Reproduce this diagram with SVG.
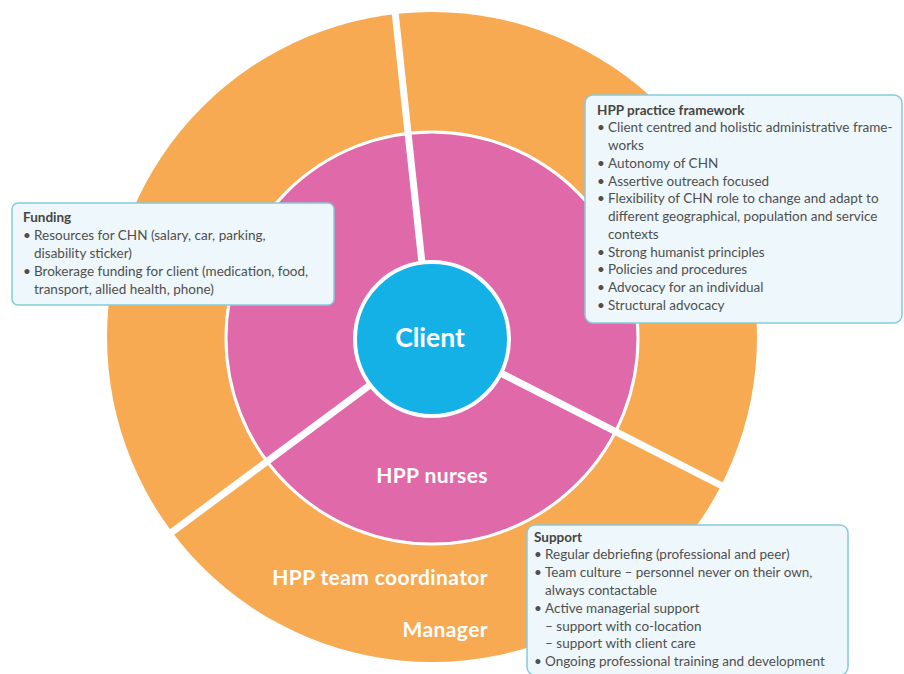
<svg xmlns="http://www.w3.org/2000/svg" width="904" height="674" viewBox="0 0 904 674">
<style>
.bg{fill:#ffffff}
.outer{fill:#F7AA52}
.mid{fill:#DF69A9;stroke:#ffffff;stroke-width:3}
.core{fill:#14B1E7;stroke:#ffffff;stroke-width:4}
.div{stroke:#ffffff;stroke-width:7;stroke-linecap:butt;fill:none}
.lbl{font-family:Lato,"Open Sans","Liberation Sans",sans-serif;font-weight:bold;fill:#ffffff}
.ring{font-size:21px;letter-spacing:0.4px}
.box{fill:#EEF7FB;stroke:#86CADC;stroke-width:1.5}
.t{font-family:Lato,"Open Sans","Liberation Sans",sans-serif;font-size:13.5px;fill:#4f4f4f}
.h{font-weight:bold;fill:#454545}
</style>
<rect class="bg" x="0" y="0" width="904" height="674"/>
<g id="coordinator-manager-ring">
  <circle class="outer" cx="432" cy="337" r="325"/>
  <text class="lbl ring" x="488" y="585" text-anchor="end">HPP team coordinator</text>
  <text class="lbl ring" x="488" y="637" text-anchor="end">Manager</text>
</g>
<g id="nurses-ring">
  <circle class="mid" cx="432" cy="338" r="206"/>
  <text class="lbl ring" x="488" y="483" text-anchor="end">HPP nurses</text>
</g>
<g id="dividers">
  <line class="div" x1="430" y1="338" x2="394" y2="2"/>
  <line class="div" x1="432" y1="339" x2="164" y2="538"/>
  <line class="div" x1="432" y1="338" x2="736" y2="493"/>
</g>
<g id="client">
  <circle class="core" cx="432" cy="339" r="77"/>
  <text class="lbl" x="430" y="347" font-size="26.5" text-anchor="middle">Client</text>
</g>
<g id="funding">
  <rect class="box" x="12" y="203" width="322" height="102" rx="6"/>
  <text class="t h" x="23" y="222">Funding</text>
  <text class="t" y="240"><tspan x="23">•</tspan><tspan x="34">Resources for CHN (salary, car, parking,</tspan></text>
  <text class="t" x="34" y="258">disability sticker)</text>
  <text class="t" y="276"><tspan x="23">•</tspan><tspan x="34">Brokerage funding for client (medication, food,</tspan></text>
  <text class="t" x="34" y="294">transport, allied health, phone)</text>
</g>
<g id="practice-framework">
  <rect class="box" x="585" y="95" width="317" height="228" rx="8"/>
  <text class="t h" x="597" y="115">HPP practice framework</text>
  <text class="t" y="132"><tspan x="597">•</tspan><tspan x="608">Client centred and holistic administrative frame-</tspan></text>
  <text class="t" x="608" y="150">works</text>
  <text class="t" y="168"><tspan x="597">•</tspan><tspan x="608">Autonomy of CHN</tspan></text>
  <text class="t" y="186"><tspan x="597">•</tspan><tspan x="608">Assertive outreach focused</tspan></text>
  <text class="t" y="203"><tspan x="597">•</tspan><tspan x="608">Flexibility of CHN role to change and adapt to</tspan></text>
  <text class="t" x="608" y="221">different geographical, population and service</text>
  <text class="t" x="608" y="239">contexts</text>
  <text class="t" y="257"><tspan x="597">•</tspan><tspan x="608">Strong humanist principles</tspan></text>
  <text class="t" y="274"><tspan x="597">•</tspan><tspan x="608">Policies and procedures</tspan></text>
  <text class="t" y="292"><tspan x="597">•</tspan><tspan x="608">Advocacy for an individual</tspan></text>
  <text class="t" y="310"><tspan x="597">•</tspan><tspan x="608">Structural advocacy</tspan></text>
</g>
<g id="support">
  <rect class="box" x="527" y="525" width="321" height="150" rx="8"/>
  <text class="t h" x="534" y="542">Support</text>
  <text class="t" y="559"><tspan x="534">•</tspan><tspan x="545">Regular debriefing (professional and peer)</tspan></text>
  <text class="t" y="577"><tspan x="534">•</tspan><tspan x="545">Team culture – personnel never on their own,</tspan></text>
  <text class="t" x="545" y="595">always contactable</text>
  <text class="t" y="613"><tspan x="534">•</tspan><tspan x="545">Active managerial support</tspan></text>
  <text class="t" x="545" y="631">– support with co-location</text>
  <text class="t" x="545" y="648">– support with client care</text>
  <text class="t" y="666"><tspan x="534">•</tspan><tspan x="545">Ongoing professional training and development</tspan></text>
</g>
</svg>
